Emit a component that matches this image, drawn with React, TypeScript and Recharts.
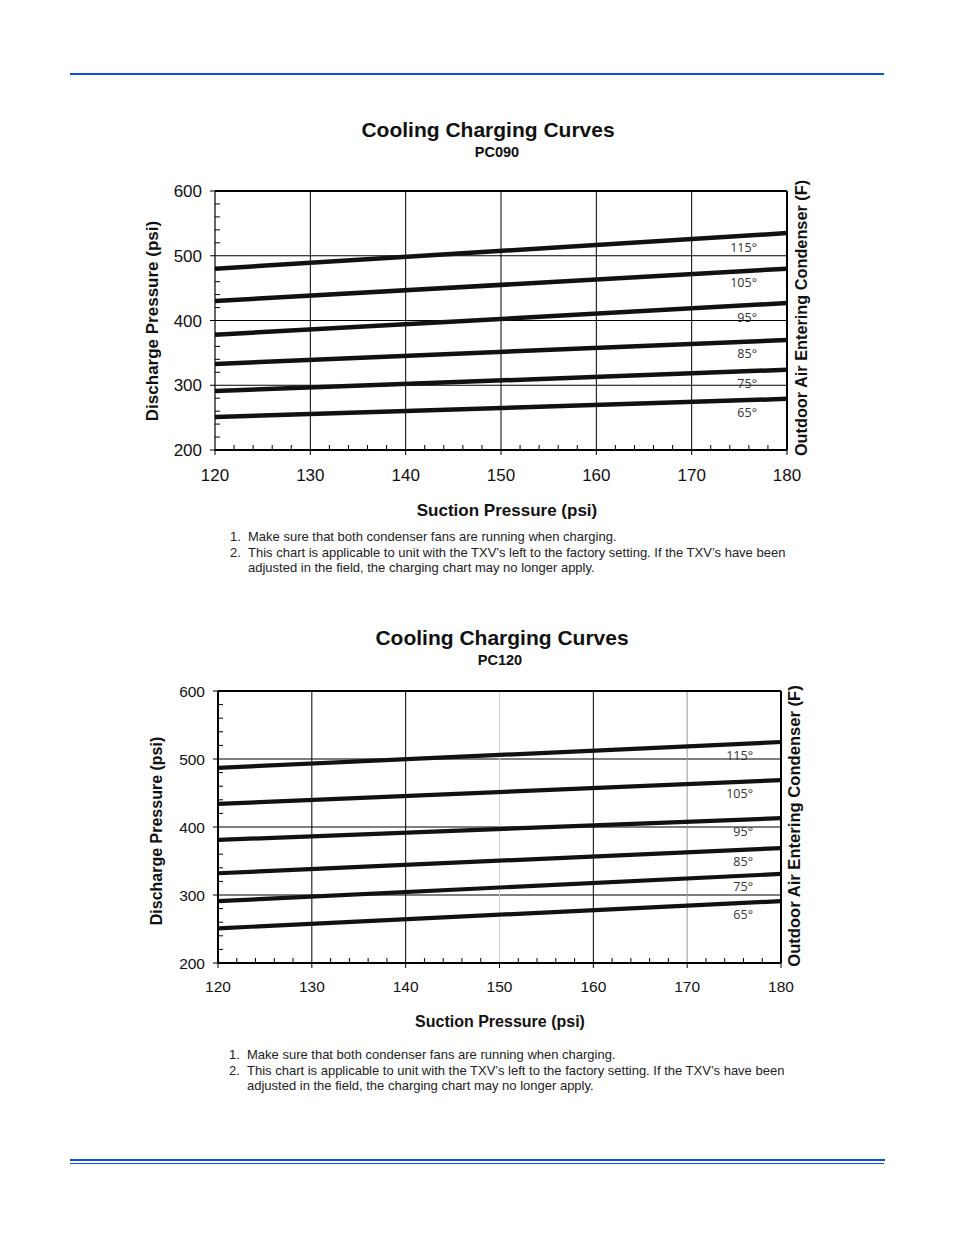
import React from 'react';
import { LineChart, Line, XAxis, YAxis, ReferenceLine, LabelList } from 'recharts';

// ---------- data ----------
const suctionPsi = [120, 180];
const xTicks = [120, 130, 140, 150, 160, 170, 180];
const xMinorTicks = [122, 124, 126, 128, 132, 134, 136, 138, 142, 144, 146, 148, 152, 154, 156, 158, 162, 164, 166, 168, 172, 174, 176, 178];
const yTicks = [200, 300, 400, 500, 600];
const yMinorTicks = [220, 240, 260, 280, 320, 340, 360, 380, 420, 440, 460, 480, 520, 540, 560, 580];
const vGridValues = [130, 140, 150, 160, 170];
const hGridValues = [300, 400, 500];
const outdoorTemps = ['115°', '105°', '95°', '85°', '75°', '65°'];
const seriesKeys = ['t115', 't105', 't95', 't85', 't75', 't65'];

// PC090 discharge pressure at suction 120 / 180
const pc090_115 = [480, 535];
const pc090_105 = [430, 480];
const pc090_95 = [378, 427];
const pc090_85 = [333, 370];
const pc090_75 = [291, 324];
const pc090_65 = [251, 279];

// PC120
const pc120_115 = [487, 525];
const pc120_105 = [434, 469];
const pc120_95 = [381, 413];
const pc120_85 = [332, 369];
const pc120_75 = [291, 331];
const pc120_65 = [251, 291];

const notes = [
  ['1.', 'Make sure that both condenser fans are running when charging.'],
  ['2.', 'This chart is applicable to unit with the TXV\u2019s left to the factory setting. If the TXV\u2019s have been'],
  ['', 'adjusted in the field, the charging chart may no longer apply.'],
];

const allXTicks = [...xTicks, ...xMinorTicks].sort((a, b) => a - b);

const buildRows = (series: number[][]) =>
  suctionPsi.map((s, i) => {
    const row: any = { suction: s };
    seriesKeys.forEach((k, j) => {
      row[k] = series[j][i];
    });
    return row;
  });

const pc090Rows = buildRows([pc090_115, pc090_105, pc090_95, pc090_85, pc090_75, pc090_65]);
const pc120Rows = buildRows([pc120_115, pc120_105, pc120_95, pc120_85, pc120_75, pc120_65]);

const FONT = "'Liberation Sans', Arial, Helvetica, sans-serif";
const BLUE = '#0b50e6';
const TICK_SIZE = 5;

type Geom = {
  left: number; top: number; width: number; height: number;
  mt: number; mr: number; yw: number; xh: number;
  tickFont: number; yTickMargin: number; xTickMargin: number;
  leftAxisWidth: number; labelDx: number; labelDy: number;
  vGridColors: string[]; lineWidth: number;
};

const makeDegreeLabel = (text: string, dx: number, dy: number) => (props: any) => {
  const x = props.x ?? props.viewBox?.x;
  const y = props.y ?? props.viewBox?.y;
  if (props.index !== suctionPsi.length - 1 || x == null || y == null) return null;
  return (
    <text
      x={x + dx}
      y={y + dy}
      textAnchor="end"
      dominantBaseline="central"
      fontSize={12.5}
      fontFamily="'Open Sans', 'Liberation Sans', sans-serif"
      fill="#333"
    >
      {text}
    </text>
  );
};

const makeXTick = (g: Geom) => (props: any) => {
  const { x, y, payload } = props;
  const v = payload?.value;
  const axisY = y - TICK_SIZE - g.xTickMargin;
  const major = xTicks.includes(v);
  return (
    <g>
      <line
        x1={x}
        x2={x}
        y1={axisY}
        y2={major ? axisY + TICK_SIZE : axisY - TICK_SIZE}
        stroke="#000"
        strokeWidth={1}
      />
      {major && (
        <text x={x} y={y} dy="0.71em" textAnchor="middle" fill="#111" fontSize={g.tickFont} fontFamily={FONT}>
          {v}
        </text>
      )}
    </g>
  );
};

const blank = () => '';

function ChargingChart({ data, g }: { data: any[]; g: Geom }) {
  return (
    <div style={{ position: 'absolute', left: g.left, top: g.top }}>
      <LineChart
        width={g.width}
        height={g.height}
        data={data}
        margin={{ top: g.mt, right: g.mr, left: 0, bottom: 0 }}
      >
        <XAxis
          dataKey="suction"
          type="number"
          domain={[120, 180]}
          ticks={allXTicks}
          interval={0}
          height={g.xh}
          tickSize={TICK_SIZE}
          tickMargin={g.xTickMargin}
          axisLine={{ stroke: '#000', strokeWidth: 2 }}
          tickLine={false}
          tick={makeXTick(g)}
          allowDataOverflow
        />
        <YAxis
          type="number"
          domain={[200, 600]}
          ticks={yTicks}
          interval={0}
          width={g.yw}
          tickSize={TICK_SIZE}
          tickMargin={g.yTickMargin}
          axisLine={{ stroke: '#000', strokeWidth: g.leftAxisWidth }}
          tickLine={{ stroke: '#000', strokeWidth: 1 }}
          tick={{ fill: '#111', fontSize: g.tickFont, fontFamily: FONT }}
          allowDataOverflow
        />
        <YAxis
          yAxisId="minor"
          type="number"
          domain={[200, 600]}
          ticks={yMinorTicks}
          interval={0}
          mirror
          tickSize={TICK_SIZE}
          axisLine={false}
          tickFormatter={blank}
          tick={{ fill: 'none', fontSize: 1 }}
          tickLine={{ stroke: '#000', strokeWidth: 1 }}
          allowDataOverflow
        />
        {hGridValues.map((v) => (
          <ReferenceLine key={'h' + v} y={v} stroke="#000" strokeWidth={1} />
        ))}
        {vGridValues.map((v, i) => (
          <ReferenceLine key={'v' + v} x={v} stroke={g.vGridColors[i]} strokeWidth={1} />
        ))}
        <ReferenceLine y={600} stroke="#000" strokeWidth={2} />
        <ReferenceLine x={180} stroke="#000" strokeWidth={2} />
        {seriesKeys.map((k, i) => (
          <Line
            key={k}
            dataKey={k}
            type="linear"
            stroke="#111"
            strokeWidth={g.lineWidth}
            dot={false}
            activeDot={false}
            isAnimationActive={false}
          >
            <LabelList dataKey={k} content={makeDegreeLabel(outdoorTemps[i], g.labelDx, g.labelDy)} />
          </Line>
        ))}
      </LineChart>
    </div>
  );
}

function Txt({ x, y, size, bold, children, anchor = 'center', rotate = false, color = '#111' }: any) {
  const tx = anchor === 'center' ? '-50%' : '0';
  return (
    <div
      style={{
        position: 'absolute',
        left: x,
        top: y,
        transform: `translate(${tx}, -50%)${rotate ? ' rotate(-90deg)' : ''}`,
        transformOrigin: anchor === 'center' ? '50% 50%' : '0 50%',
        whiteSpace: 'nowrap',
        fontFamily: FONT,
        fontSize: size,
        fontWeight: bold ? 700 : 400,
        color,
        lineHeight: 1.15,
      }}
    >
      {children}
    </div>
  );
}

function Notes({ top, numX, textX }: { top: number; numX: number; textX: number }) {
  return (
    <>
      {notes.map((n, i) => (
        <React.Fragment key={i}>
          {n[0] && (
            <Txt x={numX} y={top + i * 15.5} size={13} anchor="left" color="#222">
              {n[0]}
            </Txt>
          )}
          <Txt x={textX} y={top + i * 15.5} size={13} anchor="left" color="#222">
            {n[1]}
          </Txt>
        </React.Fragment>
      ))}
    </>
  );
}

const topGeom: Geom = {
  left: 150, top: 180, width: 660, height: 320,
  mt: 11, mr: 23, yw: 65, xh: 50,
  tickFont: 17, yTickMargin: 8, xTickMargin: 14,
  leftAxisWidth: 1.2, labelDx: -30, labelDy: 14,
  vGridColors: ['#000', '#000', '#000', '#000', '#000'], lineWidth: 4.5,
};

const bottomGeom: Geom = {
  left: 150, top: 680, width: 660, height: 330,
  mt: 11, mr: 29, yw: 68, xh: 47,
  tickFont: 15.5, yTickMargin: 8, xTickMargin: 13,
  leftAxisWidth: 2, labelDx: -28, labelDy: 13,
  vGridColors: ['#000', '#000', '#d0d0d0', '#000', '#9a9a9a'], lineWidth: 4.2,
};

export default function App() {
  return (
    <div style={{ position: 'absolute', left: 0, top: 0, width: 954, height: 1235, background: '#fff', overflow: 'hidden' }}>
      {/* header rule */}
      <div style={{ position: 'absolute', left: 70, top: 73, width: 814, height: 1.6, background: BLUE }} />

      {/* ---- PC090 ---- */}
      <Txt x={488} y={130} size={21} bold>Cooling Charging Curves</Txt>
      <Txt x={497} y={152} size={14.5} bold>PC090</Txt>
      <ChargingChart data={pc090Rows} g={topGeom} />
      <Txt x={153} y={321} size={17} bold rotate>Discharge Pressure (psi)</Txt>
      <Txt x={801} y={318} size={16.3} bold rotate>Outdoor Air Entering Condenser (F)</Txt>
      <Txt x={507} y={511} size={17} bold>Suction Pressure (psi)</Txt>
      <Notes top={537} numX={230} textX={248} />

      {/* ---- PC120 ---- */}
      <Txt x={502} y={638} size={21} bold>Cooling Charging Curves</Txt>
      <Txt x={500} y={660} size={14.5} bold>PC120</Txt>
      <ChargingChart data={pc120Rows} g={bottomGeom} />
      <Txt x={157} y={831} size={16} bold rotate>Discharge Pressure (psi)</Txt>
      <Txt x={795} y={826} size={16.6} bold rotate>Outdoor Air Entering Condenser (F)</Txt>
      <Txt x={500} y={1022} size={16} bold>Suction Pressure (psi)</Txt>
      <Notes top={1055} numX={229} textX={247} />

      {/* footer rules */}
      <div style={{ position: 'absolute', left: 70, top: 1159, width: 815, height: 2, background: BLUE }} />
      <div style={{ position: 'absolute', left: 70, top: 1163, width: 814, height: 1, background: BLUE }} />
    </div>
  );
}
